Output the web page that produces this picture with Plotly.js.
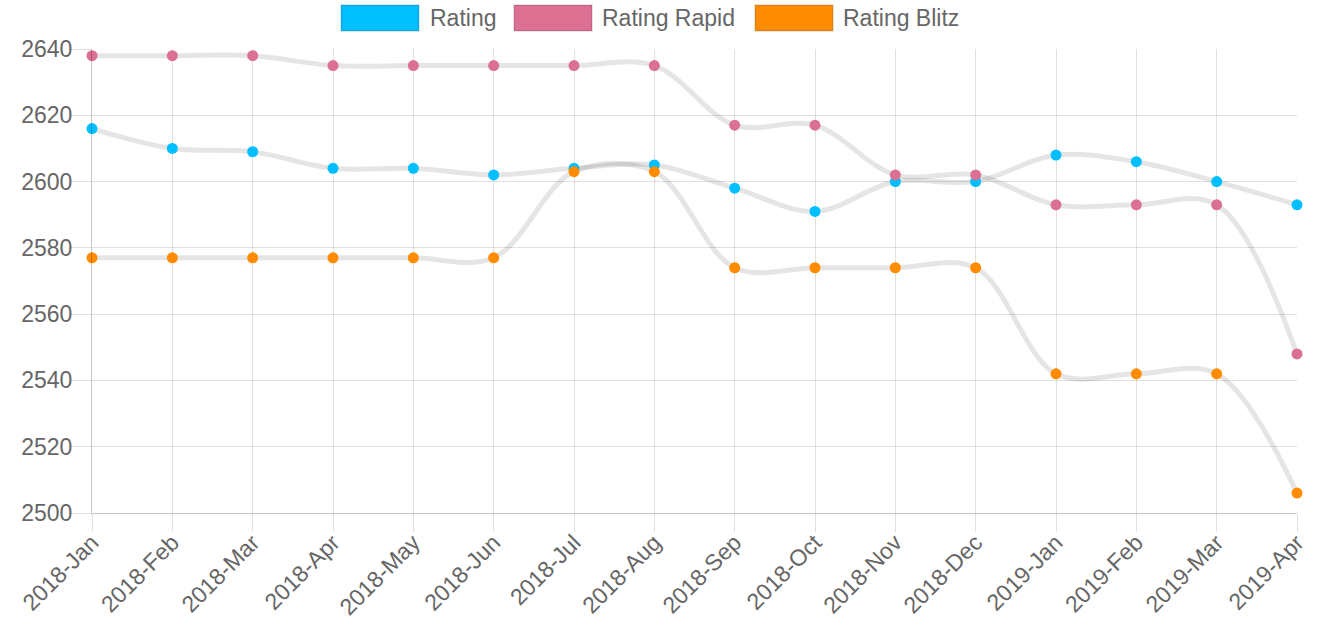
<!DOCTYPE html>
<html>
<head>
<meta charset="utf-8">
<script src="https://cdn.plot.ly/plotly-3.0.1.min.js"></script>
<style>
html, body { margin: 0; padding: 0; background: #fff; }
#chart { width: 1335px; height: 628px; }
</style>
</head>
<body>
<div id="chart"></div>
<script>
const months = ["2018-Jan","2018-Feb","2018-Mar","2018-Apr","2018-May","2018-Jun","2018-Jul","2018-Aug","2018-Sep","2018-Oct","2018-Nov","2018-Dec","2019-Jan","2019-Feb","2019-Mar","2019-Apr"];
const rating =      [2616, 2610, 2609, 2604, 2604, 2602, 2604, 2605, 2598, 2591, 2600, 2600, 2608, 2606, 2600, 2593];
const ratingRapid = [2638, 2638, 2638, 2635, 2635, 2635, 2635, 2635, 2617, 2617, 2602, 2602, 2593, 2593, 2593, 2548];
const ratingBlitz = [2577, 2577, 2577, 2577, 2577, 2577, 2603, 2603, 2574, 2574, 2574, 2574, 2542, 2542, 2542, 2506];
const seriesNames = ["Rating", "Rating Rapid", "Rating Blitz"];
const seriesColors = ["#00BFFF", "#DB7093", "#FF8C00"];
const yTicks = [2500, 2520, 2540, 2560, 2580, 2600, 2620, 2640];

const FONT = "Arial, 'Liberation Sans', Helvetica, sans-serif";
const GRID = "rgba(0,0,0,0.12)";
const AXIS = "rgba(0,0,0,0.22)";
const W = 1335, H = 628;
const M = {l: 92, r: 38, t: 49, b: 115};
const pw = W - M.l - M.r, ph = H - M.t - M.b;
const px = x => (x - M.l) / pw;
const py = y => (H - M.b - y) / ph;

const values = [rating, ratingRapid, ratingBlitz];
const traces = values.map((v, i) => ({
  type: "scatter",
  mode: "lines+markers",
  name: seriesNames[i],
  x: months,
  y: v,
  line: {color: "rgba(0,0,0,0.1)", width: 5, shape: "spline", smoothing: 1},
  marker: {color: seriesColors[i], size: 11, line: {width: 0}},
  cliponaxis: false,
  showlegend: false
}));

// custom legend (boxes + labels), Chart.js style
const legendBoxes = [[341, 419, 430], [514, 592, 602], [755, 833, 843]];
const shapes = [], annotations = [];
legendBoxes.forEach((b, i) => {
  shapes.push({type: "rect", xref: "paper", yref: "paper",
    x0: px(b[0]), x1: px(b[1]), y0: py(31), y1: py(5),
    fillcolor: seriesColors[i], line: {color: "rgba(0,0,0,0.1)", width: 2}});
  annotations.push({xref: "paper", yref: "paper", x: px(b[2] - 2), y: py(18),
    xanchor: "left", yanchor: "middle", showarrow: false,
    text: seriesNames[i], font: {family: FONT, size: 23, color: "#666"}});
});

const layout = {
  width: W, height: H,
  margin: M,
  paper_bgcolor: "#fff", plot_bgcolor: "#fff",
  showlegend: false,
  font: {family: FONT, size: 23, color: "#666"},
  xaxis: {
    type: "category", range: [0, months.length - 1],
    showgrid: true, gridcolor: GRID, gridwidth: 1,
    ticks: "outside", ticklen: 18, tickcolor: GRID, tickwidth: 1,
    ticklabelstandoff: -12,
    tickangle: -45, tickfont: {family: FONT, size: 23, color: "#666"},
    zeroline: false, showline: true, linecolor: AXIS, linewidth: 1, fixedrange: true
  },
  yaxis: {
    range: [2500, 2640], tickvals: yTicks, ticktext: yTicks.map(String),
    showgrid: true, gridcolor: GRID, gridwidth: 1,
    ticks: "outside", ticklen: 20, tickcolor: GRID, tickwidth: 1,
    ticklabelstandoff: -6,
    tickfont: {family: FONT, size: 23, color: "#666"},
    zeroline: false, showline: true, linecolor: AXIS, linewidth: 1, fixedrange: true
  },
  shapes: shapes,
  annotations: annotations
};

Plotly.newPlot("chart", traces, layout, {displayModeBar: false, staticPlot: true});
</script>
</body>
</html>
